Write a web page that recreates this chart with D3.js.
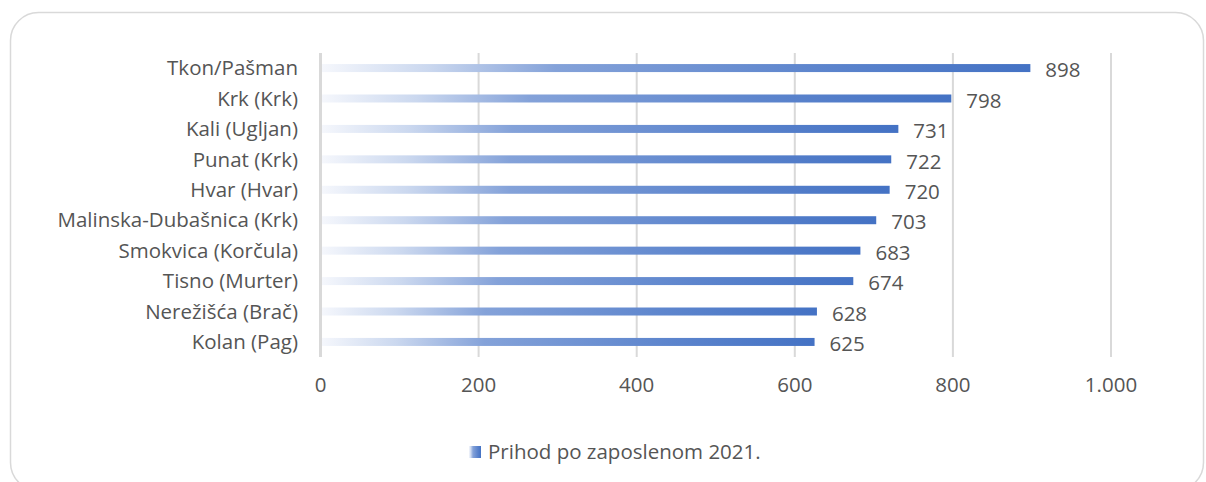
<!DOCTYPE html>
<html>
<head>
<meta charset="utf-8">
<script src="https://cdn.jsdelivr.net/npm/d3@7"></script>
<style>
  body { margin: 0; background: #fff; }
  text { font-family: 'Open Sans', sans-serif; fill: #555; font-size: 20.5px; }
</style>
</head>
<body>
<svg width="1206" height="482"></svg>
<script>
const svg = d3.select('svg');

const categories = ['Tkon/Pašman', 'Krk (Krk)', 'Kali (Ugljan)', 'Punat (Krk)', 'Hvar (Hvar)',
  'Malinska-Dubašnica (Krk)', 'Smokvica (Korčula)', 'Tisno (Murter)', 'Nerežišća (Brač)', 'Kolan (Pag)'];
const values = [898, 798, 731, 722, 720, 703, 683, 674, 628, 625];
const xTicks = [0, 200, 400, 600, 800, 1000];
const seriesName = 'Prihod po zaposlenom 2021.';

const data = categories.map((c, i) => ({ name: c, value: values[i] }));

// chart frame
svg.append('rect')
  .attr('x', 10.5).attr('y', 12.5)
  .attr('width', 1193).attr('height', 478)
  .attr('rx', 28)
  .attr('fill', '#fff')
  .attr('stroke', '#d9d9d9')
  .attr('stroke-width', 1.5);

const defs = svg.append('defs');
const grad = defs.append('linearGradient').attr('id', 'barGrad')
  .attr('x1', '0%').attr('x2', '100%').attr('y1', '0%').attr('y2', '0%');
[[0, '#f5f7fc'], [0.15, '#cbd8ef'], [0.33, '#84a2d9'], [0.7, '#5d85cd'], [1, '#4472c4']]
  .forEach(([o, c]) => grad.append('stop').attr('offset', o).attr('stop-color', c));

const xScale = d3.scaleLinear().domain([0, 1000]).range([320.5, 1111]);
const yScale = d3.scaleBand().domain(categories).range([52.8, 357.2]).paddingInner(0.737).paddingOuter(0.37);

// gridlines
svg.append('g').selectAll('line')
  .data(xTicks)
  .join('line')
  .attr('x1', d => xScale(d)).attr('x2', d => xScale(d))
  .attr('y1', 53).attr('y2', 357)
  .attr('stroke', '#d9d9d9')
  .attr('stroke-width', d => d === 0 ? 3 : 2);

// x tick labels
const fmt = d => d3.format(',')(d).replace(/,/g, '.');
svg.append('g').selectAll('text')
  .data(xTicks)
  .join('text')
  .attr('x', d => xScale(d))
  .attr('y', 385)
  .attr('dy', '0.35em')
  .attr('text-anchor', 'middle')
  .text(fmt);

// category labels
svg.append('g').selectAll('text')
  .data(data)
  .join('text')
  .attr('x', 298)
  .attr('y', d => yScale(d.name) + yScale.bandwidth() / 2)
  .attr('dy', '0.35em')
  .attr('text-anchor', 'end')
  .text(d => d.name);

// bars
svg.append('g').selectAll('rect')
  .data(data)
  .join('rect')
  .attr('x', xScale(0) + 1.5)
  .attr('y', d => yScale(d.name))
  .attr('width', d => xScale(d.value) - xScale(0) - 1.5)
  .attr('height', yScale.bandwidth())
  .attr('fill', 'url(#barGrad)');

// value labels
svg.append('g').selectAll('text')
  .data(data)
  .join('text')
  .attr('x', d => xScale(d.value) + 15)
  .attr('y', d => yScale(d.name) + yScale.bandwidth() / 2 + 2)
  .attr('dy', '0.35em')
  .text(d => d.value);

// legend
const legend = svg.append('g').attr('transform', 'translate(469,446)');
legend.append('rect')
  .attr('width', 12).attr('height', 12)
  .attr('fill', 'url(#barGrad)');
legend.append('text')
  .attr('x', 19).attr('y', 6)
  .attr('dy', '0.35em')
  .text(seriesName);
</script>
</body>
</html>
